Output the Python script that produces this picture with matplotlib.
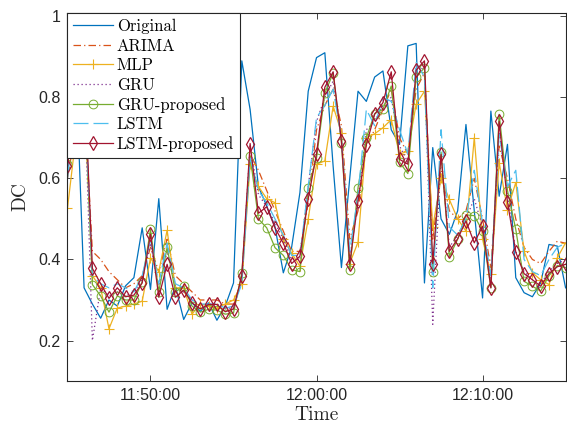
import matplotlib
matplotlib.use("Agg")
import matplotlib.pyplot as plt
import matplotlib.dates as mdates
from matplotlib.ticker import FuncFormatter
import pandas as pd

# time axis: one sample every 30 s
t = pd.date_range("2020-01-01 11:45:00", periods=61, freq="30s")

original = [0.62, 0.88, 0.33, 0.29, 0.255, 0.30, 0.285, 0.335, 0.355, 0.478,
            0.326, 0.55, 0.277, 0.334, 0.252, 0.293, 0.272, 0.293, 0.25, 0.285,
            0.342, 0.89, 0.77, 0.58, 0.532, 0.48, 0.367, 0.43, 0.565, 0.815,
            0.898, 0.91, 0.63, 0.38, 0.60, 0.815, 0.79, 0.85, 0.865, 0.72,
            0.684, 0.927, 0.933, 0.342, 0.676, 0.50, 0.462, 0.52, 0.733, 0.52,
            0.305, 0.766, 0.556, 0.684, 0.355, 0.318, 0.308, 0.342, 0.437, 0.433,
            0.33]
arima = [0.60, 0.72, 0.80, 0.42, 0.40, 0.37, 0.35, 0.33, 0.34, 0.36,
         0.43, 0.37, 0.45, 0.36, 0.34, 0.32, 0.30, 0.30, 0.30, 0.29,
         0.29, 0.35, 0.66, 0.62, 0.57, 0.52, 0.47, 0.42, 0.42, 0.54,
         0.72, 0.78, 0.82, 0.73, 0.45, 0.52, 0.68, 0.72, 0.77, 0.82,
         0.70, 0.66, 0.82, 0.86, 0.45, 0.62, 0.52, 0.50, 0.52, 0.60,
         0.50, 0.38, 0.68, 0.60, 0.50, 0.43, 0.40, 0.39, 0.42, 0.445,
         0.44]
mlp = [0.526, 0.70, 0.80, 0.36, 0.33, 0.229, 0.28, 0.285, 0.29, 0.297,
       0.404, 0.37, 0.472, 0.33, 0.33, 0.265, 0.29, 0.285, 0.28, 0.29,
       0.30, 0.34, 0.635, 0.58, 0.55, 0.54, 0.45, 0.416, 0.383, 0.50,
       0.635, 0.643, 0.778, 0.713, 0.39, 0.443, 0.70, 0.71, 0.725, 0.745,
       0.66, 0.667, 0.783, 0.815, 0.48, 0.60, 0.548, 0.50, 0.47, 0.70,
       0.45, 0.363, 0.639, 0.523, 0.59, 0.42, 0.367, 0.35, 0.338, 0.404,
       0.441]
gru = [0.62, 0.75, 0.85, 0.20, 0.33, 0.31, 0.32, 0.31, 0.32, 0.35,
       0.44, 0.33, 0.42, 0.33, 0.32, 0.30, 0.285, 0.29, 0.29, 0.28,
       0.28, 0.35, 0.68, 0.56, 0.53, 0.49, 0.45, 0.40, 0.40, 0.58,
       0.74, 0.80, 0.84, 0.70, 0.40, 0.55, 0.72, 0.74, 0.78, 0.80,
       0.68, 0.64, 0.85, 0.88, 0.24, 0.66, 0.43, 0.46, 0.50, 0.55,
       0.48, 0.34, 0.72, 0.56, 0.42, 0.37, 0.35, 0.34, 0.37, 0.39,
       0.40]
gru_prop = [0.635, 0.78, 0.85, 0.338, 0.31, 0.27, 0.31, 0.30, 0.30, 0.345,
            0.474, 0.32, 0.43, 0.32, 0.334, 0.285, 0.27, 0.277, 0.275, 0.265,
            0.268, 0.367, 0.655, 0.50, 0.478, 0.429, 0.41, 0.375, 0.37, 0.577,
            0.65, 0.81, 0.86, 0.688, 0.375, 0.577, 0.70, 0.76, 0.77, 0.828,
            0.64, 0.612, 0.85, 0.873, 0.37, 0.665, 0.407, 0.45, 0.51, 0.508,
            0.47, 0.33, 0.758, 0.57, 0.474, 0.346, 0.334, 0.322, 0.36, 0.385,
            0.38]
lstm = [0.60, 0.78, 0.84, 0.36, 0.34, 0.33, 0.34, 0.33, 0.32, 0.36,
        0.45, 0.34, 0.44, 0.34, 0.33, 0.30, 0.29, 0.29, 0.29, 0.28,
        0.285, 0.34, 0.65, 0.57, 0.54, 0.50, 0.46, 0.41, 0.41, 0.58,
        0.75, 0.78, 0.82, 0.70, 0.42, 0.56, 0.77, 0.73, 0.80, 0.79,
        0.72, 0.66, 0.886, 0.85, 0.33, 0.72, 0.48, 0.46, 0.50, 0.62,
        0.49, 0.36, 0.71, 0.58, 0.62, 0.40, 0.37, 0.36, 0.40, 0.43,
        0.44]
lstm_prop = [0.63, 0.80, 0.87, 0.378, 0.34, 0.304, 0.33, 0.308, 0.312, 0.342,
             0.462, 0.307, 0.388, 0.307, 0.324, 0.293, 0.278, 0.289, 0.289, 0.271,
             0.278, 0.36, 0.686, 0.514, 0.53, 0.478, 0.44, 0.39, 0.408, 0.55,
             0.661, 0.825, 0.863, 0.692, 0.389, 0.544, 0.683, 0.758, 0.787, 0.863,
             0.647, 0.635, 0.867, 0.89, 0.39, 0.659, 0.42, 0.451, 0.495, 0.441,
             0.482, 0.33, 0.741, 0.542, 0.418, 0.365, 0.35, 0.334, 0.365, 0.382,
             0.388]

xticks = ["2020-01-01 11:50:00", "2020-01-01 12:00:00", "2020-01-01 12:10:00"]
yticks = [0.2, 0.4, 0.6, 0.8, 1.0]

ink = "#262626"
cm = "cmr10"
lw = 0.9

fig = plt.figure(figsize=(5.67, 4.34), dpi=100)
ax = fig.add_axes([0.119, 0.122, 0.8785, 0.848])

ax.plot(t, original, color="#0072BD", lw=lw, label="Original")
ax.plot(t, arima, color="#D95319", lw=lw, dashes=(6, 2.5, 1, 2.5), label="ARIMA")
ax.plot(t, mlp, color="#EDB120", lw=lw, marker="+", ms=7, mew=0.8, label="MLP")
ax.plot(t, gru, color="#7E2F8E", lw=lw, dashes=(1, 2.2), label="GRU")
ax.plot(t, gru_prop, color="#77AC30", lw=lw, marker="o", ms=6.3, mfc="none",
        mew=0.7, label="GRU-proposed")
ax.plot(t, lstm, color="#4DBEEE", lw=lw, dashes=(12, 4), label="LSTM")
ax.plot(t, lstm_prop, color="#A2142F", lw=lw, marker="d", ms=7, mfc="none",
        mew=0.9, label="LSTM-proposed")

ax.set_xlim(pd.Timestamp("2020-01-01 11:45:00"), pd.Timestamp("2020-01-01 12:15:00"))
ax.set_ylim(0.1, 1.008)
ax.set_xticks(pd.to_datetime(xticks))
ax.xaxis.set_major_formatter(mdates.DateFormatter("%H:%M:%S"))
ax.set_yticks(yticks)
ax.yaxis.set_major_formatter(FuncFormatter(lambda v, p: "%g" % v))

ax.tick_params(direction="in", length=4, width=0.6, top=True, right=True,
               colors=ink, labelsize=11.5, pad=5)
for lab in ax.get_xticklabels() + ax.get_yticklabels():
    lab.set_fontfamily("Liberation Sans")
for s in ax.spines.values():
    s.set_color(ink)
    s.set_linewidth(0.8)

ax.set_xlabel("Time", fontfamily=cm, fontsize=14, color=ink, labelpad=2)
ax.set_ylabel("DC", fontfamily=cm, fontsize=14, color=ink, labelpad=6)

leg = ax.legend(loc="upper left", bbox_to_anchor=(0, 1), borderaxespad=0,
                prop={"family": cm, "size": 12}, handlelength=2.4,
                handletextpad=0.2, labelspacing=0.25, borderpad=0.35,
                fancybox=False, framealpha=1, edgecolor=ink)
leg.get_frame().set_linewidth(0.8)

fig.savefig("out.png", dpi=100)
